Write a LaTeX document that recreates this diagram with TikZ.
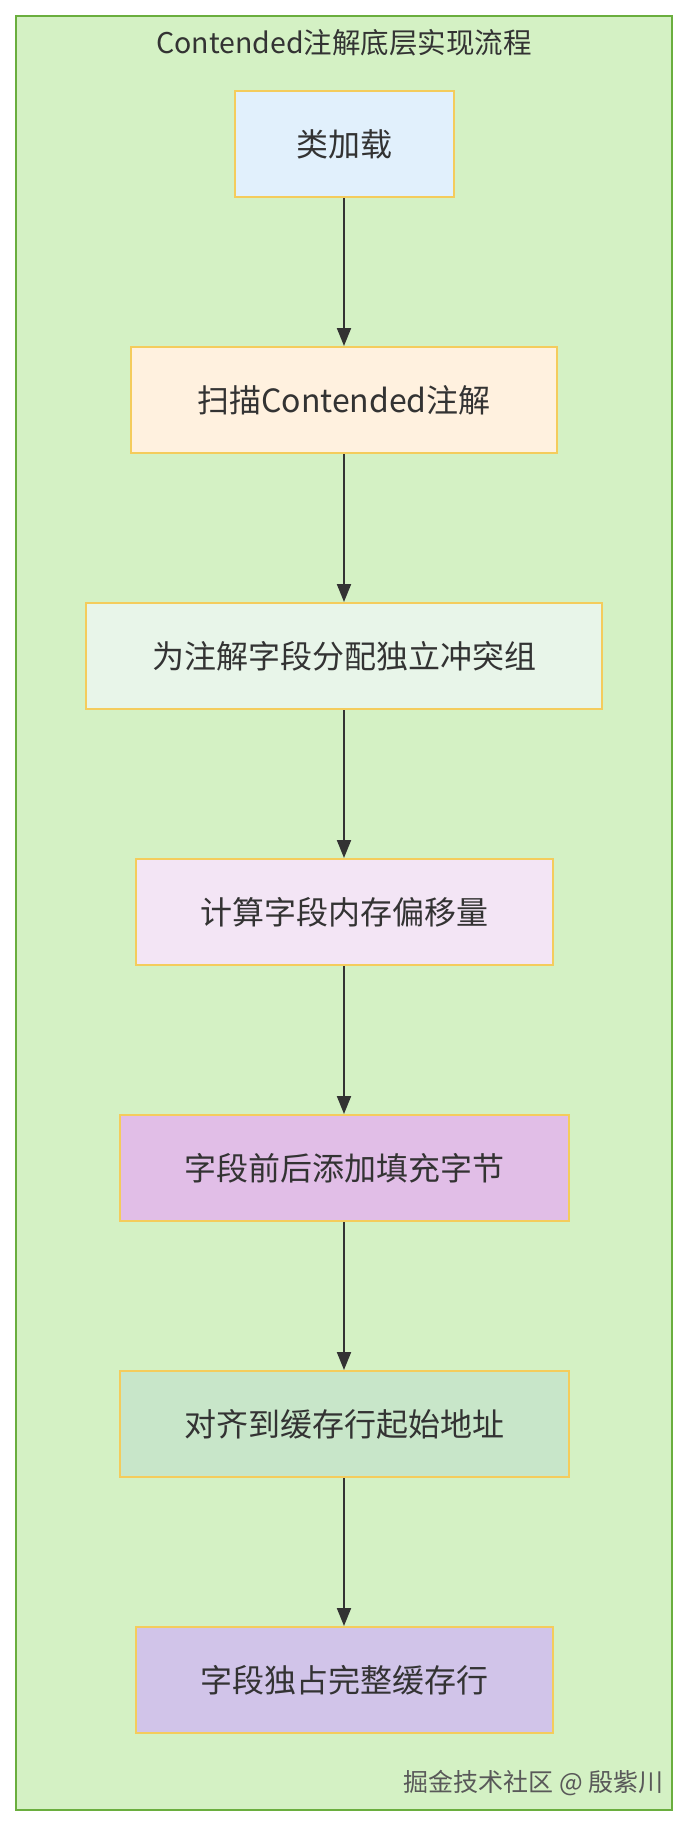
\documentclass[tikz,border=0pt]{standalone}
\usepackage{fontspec}
\setmainfont{Noto Sans CJK SC}
\usetikzlibrary{arrows.meta}
\definecolor{framefill}{HTML}{D4F1C4}
\definecolor{frameline}{HTML}{6AAE3E}
\definecolor{boxline}{HTML}{F4CC5C}
\definecolor{txt}{HTML}{333333}
\definecolor{cA}{HTML}{E1F0FC}
\definecolor{cB}{HTML}{FFF1DF}
\definecolor{cC}{HTML}{E8F5E9}
\definecolor{cD}{HTML}{F3E5F5}
\definecolor{cE}{HTML}{E1BEE7}
\definecolor{cF}{HTML}{C8E6C9}
\definecolor{cG}{HTML}{D1C4E9}
\tikzset{
  stepbox/.style={draw=boxline, line width=2pt, minimum height=106pt, inner sep=0pt,
    text=txt, font=\fontsize{32}{38}\selectfont},
  flowarrow/.style={draw=txt, line width=2pt, -{Triangle[length=18pt,width=14pt]}},
}
\begin{document}
\begin{tikzpicture}[x=1pt,y=-1pt]
\useasboundingbox (0,0) rectangle (688,1826);
\fill[white] (0,0) rectangle (688,1826);
\draw[fill=framefill, draw=frameline, line width=2pt] (16,16) rectangle (672,1810);
\node[text=txt, font=\fontsize{28.5}{34}\selectfont] (title) at (344,43) {Contended注解底层实现流程};
\node[stepbox, fill=cA, minimum width=219pt] (b1) at (344,144) {类加载};
\node[stepbox, fill=cB, minimum width=426pt] (b2) at (344,400) {扫描Contended注解};
\node[stepbox, fill=cC, minimum width=516pt] (b3) at (344,656) {为注解字段分配独立冲突组};
\node[stepbox, fill=cD, minimum width=417pt] (b4) at (344,912) {计算字段内存偏移量};
\node[stepbox, fill=cE, minimum width=449pt] (b5) at (344,1168) {字段前后添加填充字节};
\node[stepbox, fill=cF, minimum width=449pt] (b6) at (344,1424) {对齐到缓存行起始地址};
\node[stepbox, fill=cG, minimum width=417pt] (b7) at (344,1680) {字段独占完整缓存行};
\node[anchor=east, text=black!65, font=\fontsize{25}{30}\selectfont] (wm) at (667,1783) {掘金技术社区 @ 殷紫川};
\draw[flowarrow] (b1) -- (b2);
\draw[flowarrow] (b2) -- (b3);
\draw[flowarrow] (b3) -- (b4);
\draw[flowarrow] (b4) -- (b5);
\draw[flowarrow] (b5) -- (b6);
\draw[flowarrow] (b6) -- (b7);
\end{tikzpicture}
\end{document}
